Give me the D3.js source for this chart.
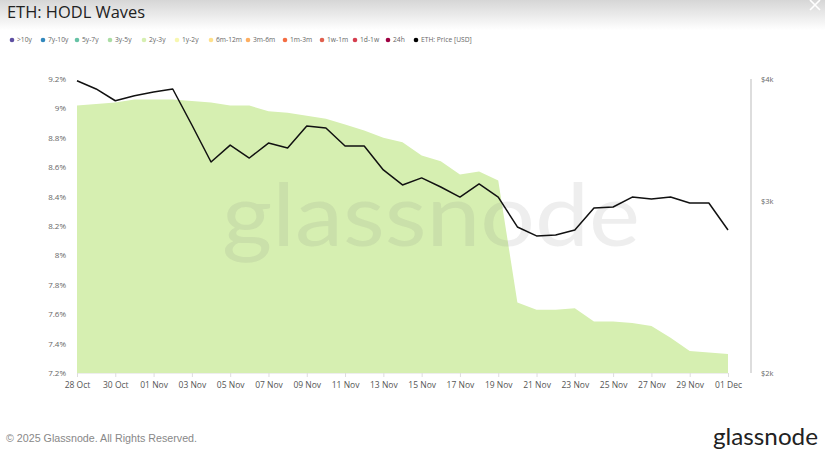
<!DOCTYPE html>
<html><head><meta charset="utf-8">
<script src="https://cdn.jsdelivr.net/npm/d3@7"></script>
<style>body{margin:0;background:#fff;}svg{display:block;font-family:"Open Sans",Roboto,sans-serif;}</style>
</head><body>
<svg id="c" width="825" height="453"></svg>
<script>
const dates = ["2025-10-28","2025-10-29","2025-10-30","2025-10-31","2025-11-01","2025-11-02","2025-11-03","2025-11-04","2025-11-05","2025-11-06","2025-11-07","2025-11-08","2025-11-09","2025-11-10","2025-11-11","2025-11-12","2025-11-13","2025-11-14","2025-11-15","2025-11-16","2025-11-17","2025-11-18","2025-11-19","2025-11-20","2025-11-21","2025-11-22","2025-11-23","2025-11-24","2025-11-25","2025-11-26","2025-11-27","2025-11-28","2025-11-29","2025-11-30","2025-12-01"];
const wave2y3y = [9.02,9.03,9.04,9.06,9.06,9.06,9.05,9.04,9.02,9.02,8.98,8.97,8.95,8.93,8.89,8.85,8.80,8.77,8.68,8.64,8.55,8.57,8.51,7.68,7.63,7.63,7.64,7.55,7.55,7.54,7.52,7.44,7.35,7.34,7.33];
const ethPrice = [3984,3907,3800,3846,3879,3907,3589,3289,3423,3320,3439,3399,3580,3564,3415,3415,3228,3116,3168,3101,3028,3123,3028,2822,2763,2769,2802,2951,2958,3028,3014,3028,2986,2986,2802];
const leftTicks = [7.2,7.4,7.6,7.8,8,8.2,8.4,8.6,8.8,9,9.2];
const rightTicks = [2000,3000,4000];
const xTickDates = ["2025-10-28","2025-10-30","2025-11-01","2025-11-03","2025-11-05","2025-11-07","2025-11-09","2025-11-11","2025-11-13","2025-11-15","2025-11-17","2025-11-19","2025-11-21","2025-11-23","2025-11-25","2025-11-27","2025-11-29","2025-12-01"];
const legendNames = [">10y","7y-10y","5y-7y","3y-5y","2y-3y","1y-2y","6m-12m","3m-6m","1m-3m","1w-1m","1d-1w","24h","ETH: Price [USD]"];
const legendColors = ["#5e4fa2","#3288bd","#66c2a5","#abdda4","#d6efb1","#f7f7b0","#fee08b","#fdae61","#f46d43","#e0604e","#d53e4f","#9e0142","#000000"];

const parse = d3.utcParse("%Y-%m-%d");
const data = dates.map((d,i)=>({date:parse(d), wave:wave2y3y[i], price:ethPrice[i]}));
const svg = d3.select("#c");

// header gradient
const defs = svg.append("defs");
const g1 = defs.append("linearGradient").attr("id","hdr").attr("x1",0).attr("y1",0).attr("x2",0).attr("y2",1);
g1.append("stop").attr("offset","0%").attr("stop-color","#d6d6d6");
g1.append("stop").attr("offset","100%").attr("stop-color","#ffffff");
svg.append("rect").attr("x",0).attr("y",0).attr("width",825).attr("height",30).attr("fill","url(#hdr)");
svg.append("path").attr("d","M810,0 L820,10 M820,0 L810,10").attr("stroke","#fff").attr("stroke-width",1.6);

svg.append("text").attr("x",7).attr("y",18).attr("font-size",17).attr("fill","#222")
  .attr("textLength",138).attr("lengthAdjust","spacingAndGlyphs").text("ETH: HODL Waves");

// legend
const legendX = [12,43,77,110,144,177,211,248,285,322,355,388,416];
legendNames.forEach((n,i)=>{
  const g = svg.append("g").attr("transform",`translate(${legendX[i]},40)`);
  g.append("circle").attr("r",2.3).attr("fill",legendColors[i]);
  g.append("text").attr("x",5).attr("y",2.4).attr("font-size",6.7).attr("fill","#666").text(n);
});

const x = d3.scaleUtc().domain([parse("2025-10-28"),parse("2025-12-01")]).range([77,728]);
const yL = d3.scaleLinear().domain([7.2,9.2]).range([373,79]);
const yR = d3.scaleLog().domain([2000,4000]).range([373,79]);

const area = d3.area().x(d=>x(d.date)).y0(373).y1(d=>yL(d.wave));
svg.append("path").datum(data).attr("d",area).attr("fill","#d6efb1");

// watermark
svg.append("text").attr("x",222).attr("y",246).attr("font-family","Lato, 'Open Sans', sans-serif")
  .attr("font-size",88).attr("fill","#7a7a7a").attr("fill-opacity",0.13)
  .attr("textLength",418).attr("lengthAdjust","spacingAndGlyphs").text("glassnode");

leftTicks.forEach(t=>{
  svg.append("text").attr("x",66).attr("y",yL(t)+3).attr("text-anchor","end")
    .attr("font-size",8).attr("fill","#666").text(d3.format("~g")(t)+"%");
});

svg.append("line").attr("x1",751).attr("x2",751).attr("y1",79).attr("y2",373).attr("stroke","#bbb").attr("stroke-width",1);
rightTicks.forEach(t=>{
  svg.append("text").attr("x",761).attr("y",yR(t)+3).attr("font-size",7.5).attr("fill","#666").text("$"+(t/1000)+"k");
});

const fmt = d3.utcFormat("%d %b");
const xAxis = d3.axisBottom(x).tickValues(xTickDates.map(parse)).tickFormat(fmt).tickSize(4).tickSizeOuter(0);
const ax = svg.append("g").attr("transform","translate(0,373)").call(xAxis);
ax.select(".domain").attr("stroke","#eee");
ax.selectAll(".tick line").attr("stroke","#ddd");
ax.selectAll(".tick text").attr("font-size",8.5).attr("fill","#555").attr("dy","0.9em").attr("font-family","'Open Sans',sans-serif");

const line = d3.line().x(d=>x(d.date)).y(d=>yR(d.price));
svg.append("path").datum(data).attr("d",line).attr("fill","none").attr("stroke","#111").attr("stroke-width",1.5).attr("stroke-linejoin","round");

svg.append("text").attr("x",6).attr("y",442).attr("font-family","'Liberation Sans',Arial,sans-serif").attr("font-size",11).attr("fill","#888")
  .attr("textLength",191).attr("lengthAdjust","spacingAndGlyphs").text("© 2025 Glassnode. All Rights Reserved.");
svg.append("text").attr("x",713).attr("y",445).attr("font-family","Lato,'Open Sans',sans-serif").attr("font-size",23).attr("fill","#222")
  .attr("textLength",105).attr("lengthAdjust","spacingAndGlyphs").text("glassnode");
</script>
</body></html>
